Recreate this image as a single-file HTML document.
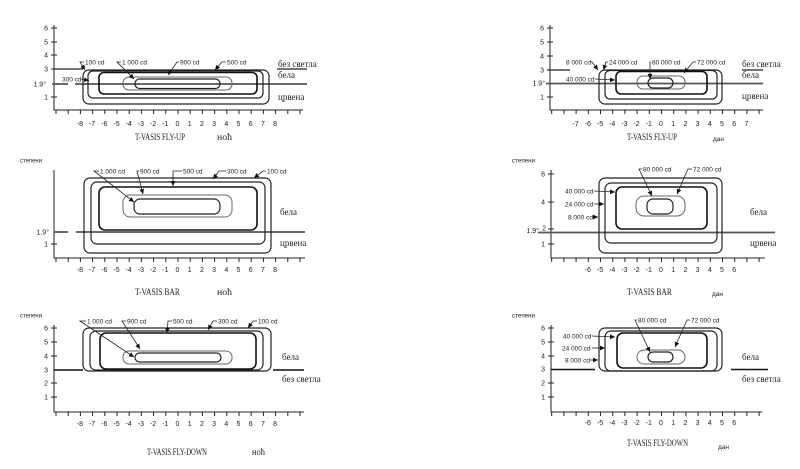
<!DOCTYPE html>
<html><head><meta charset="utf-8"><style>
html,body{margin:0;padding:0;background:#fff;}
svg{display:block;}
.s{font-family:"Liberation Sans",sans-serif;font-size:6.5px;fill:#222;}
.t{font-family:"Liberation Sans",sans-serif;font-size:7px;fill:#222;text-anchor:middle;}
.y{font-family:"Liberation Sans",sans-serif;font-size:7px;fill:#222;text-anchor:end;}
.r{font-family:"Liberation Serif",serif;font-size:9px;fill:#222;}
.h{font-family:"Liberation Serif",serif;font-size:9.5px;fill:#222;}
.ax{stroke:#222;stroke-width:1;fill:none;}
.k{stroke:#222;stroke-width:1.2;fill:none;}
.kk{stroke:#111;stroke-width:1.6;fill:none;}
.g{stroke:#666;stroke-width:1;fill:none;}
.gl{stroke:#555;stroke-width:1.8;fill:none;}
.ar{stroke:#222;stroke-width:0.8;fill:none;marker-end:url(#a);}
</style></head><body>
<svg width="800" height="469" viewBox="0 0 800 469" xmlns="http://www.w3.org/2000/svg">
<defs><marker id="a" markerWidth="6" markerHeight="6" refX="5" refY="3" orient="auto" markerUnits="userSpaceOnUse"><path d="M0 0.6L5 3L0 5.4Z" fill="#111"/></marker></defs>
<rect width="800" height="469" fill="#fff"/>

<!-- ========== TOP LEFT ========== -->
<path class="ax" d="M54 25V110H303"/>
<line x1="55.5" y1="112" x2="301" y2="112" stroke="#222" stroke-width="4" stroke-dasharray="1 11.2"/>
<path class="ax" d="M51 28h6M51 42h6M51 55h6M51 69h6M51 97h6"/>
<text class="y" x="48" y="30.5">6</text><text class="y" x="48" y="44.5">5</text><text class="y" x="48" y="57.5">4</text><text class="y" x="48" y="71.5">3</text><text class="y" x="46" y="86.5">1.9°</text><text class="y" x="48" y="99.5">1</text>
<path class="k" d="M54 69H83M277 69H307"/>
<path class="gl" d="M52 84H68M75 84H307"/>
<g transform="translate(0,126)"><text class="t" x="79.9">-8</text><text class="t" x="92.1">-7</text><text class="t" x="104.3">-6</text><text class="t" x="116.5">-5</text><text class="t" x="128.7">-4</text><text class="t" x="140.9">-3</text><text class="t" x="153.1">-2</text><text class="t" x="165.3">-1</text><text class="t" x="177.5">0</text><text class="t" x="189.7">1</text><text class="t" x="201.9">2</text><text class="t" x="214.1">3</text><text class="t" x="226.3">4</text><text class="t" x="238.5">5</text><text class="t" x="250.7">6</text><text class="t" x="262.9">7</text><text class="t" x="275.1">8</text></g>
<rect class="k" x="83" y="70" width="186" height="34" rx="6"/>
<rect class="k" x="88" y="71" width="175" height="27" rx="5"/>
<rect class="kk" x="99" y="72.5" width="158" height="21.5" rx="5"/>
<rect class="g" x="123" y="77" width="109" height="13" rx="6"/>
<rect class="k" x="135" y="79" width="85" height="9.5" rx="4.5"/>
<text class="s" x="85" y="64.5">100 cd</text><path class="ar" d="M84 62H80L85 70"/>
<text class="s" x="62" y="81.5">300 cd</text><path class="ar" d="M81 79L89 80.5"/>
<text class="s" x="122" y="64.5">1 000 cd</text><path class="ar" d="M121 62H117L134 79"/>
<text class="s" x="180" y="64.5">900 cd</text><path class="ar" d="M179 62H177L168 75"/>
<text class="s" x="227" y="64.5">500 cd</text><path class="ar" d="M226 62H222L215 70"/>
<text class="r" x="278" y="67">без светла</text><text class="r" x="278" y="78">бела</text><text class="r" x="278" y="100">црвена</text>
<text class="h" x="135" y="140" textLength="50" lengthAdjust="spacingAndGlyphs">T-VASIS FLY-UP</text><text class="h" x="217" y="140" textLength="15" lengthAdjust="spacingAndGlyphs">ноћ</text>

<!-- ========== TOP RIGHT ========== -->
<path class="ax" d="M550 25V110H763"/>
<line x1="551.2" y1="112" x2="761" y2="112" stroke="#222" stroke-width="4" stroke-dasharray="1 11.2"/>
<path class="ax" d="M547 28h6M547 42h6M547 56h6M547 70h6M547 97h6"/>
<text class="y" x="544" y="30.5">6</text><text class="y" x="544" y="44.5">5</text><text class="y" x="544" y="58.5">4</text><text class="y" x="544" y="72.5">3</text><text class="y" x="545" y="85.5">1.9°</text><text class="y" x="544" y="99.5">1</text>
<path class="k" d="M547 70H570M742 70H763"/>
<path class="gl" d="M546 83.5H763"/>
<g transform="translate(0,126)"><text class="t" x="575.6">-7</text><text class="t" x="587.8">-6</text><text class="t" x="600">-5</text><text class="t" x="612.2">-4</text><text class="t" x="624.4">-3</text><text class="t" x="636.6">-2</text><text class="t" x="648.8">-1</text><text class="t" x="661">0</text><text class="t" x="673.2">1</text><text class="t" x="685.4">2</text><text class="t" x="697.6">3</text><text class="t" x="709.8">4</text><text class="t" x="722">5</text><text class="t" x="734.2">6</text><text class="t" x="746.4">7</text></g>
<rect class="k" x="599" y="70" width="123" height="34" rx="6"/>
<rect class="k" x="605" y="70.5" width="112" height="28.5" rx="5"/>
<rect class="kk" x="616" y="71.5" width="91" height="22.5" rx="5"/>
<rect class="g" x="637" y="76" width="48" height="13" rx="6"/>
<rect class="k" x="648" y="78" width="25" height="10" rx="5"/>
<text class="s" x="566" y="64.5">8 000 cd</text><path class="ar" d="M590 62H592L598 70"/>
<text class="s" x="609" y="64.5">24 000 cd</text><path class="ar" d="M608 62H606L603.5 70"/>
<text class="s" x="566" y="81.5">40 000 cd</text><path class="ar" d="M595 79L615 80"/>
<text class="s" x="652" y="64.5">80 000 cd</text><path class="ar" d="M651 62H650L650 79"/>
<text class="s" x="697" y="64.5">72 000 cd</text><path class="ar" d="M696 62H693L684 73"/>
<text class="r" x="742" y="67">без светла</text><text class="r" x="742" y="78">бела</text><text class="r" x="742" y="99">црвена</text>
<text class="h" x="627" y="140" textLength="50" lengthAdjust="spacingAndGlyphs">T-VASIS FLY-UP</text><text class="s" x="713" y="141">дан</text>

<!-- ========== MIDDLE LEFT ========== -->
<text class="s" x="20" y="162.5" textLength="22" lengthAdjust="spacingAndGlyphs">степени</text>
<path class="ax" d="M54 170V258H305"/>
<line x1="55.5" y1="260" x2="301" y2="260" stroke="#222" stroke-width="4" stroke-dasharray="1 11.2"/>
<path class="ax" d="M51 244h6"/>
<text class="y" x="49" y="234.5">1.9°</text><text class="y" x="48" y="246.5">1</text>
<path class="gl" d="M54 232H68M76 232H305"/>
<g transform="translate(0,272)"><text class="t" x="79.9">-8</text><text class="t" x="92.1">-7</text><text class="t" x="104.3">-6</text><text class="t" x="116.5">-5</text><text class="t" x="128.7">-4</text><text class="t" x="140.9">-3</text><text class="t" x="153.1">-2</text><text class="t" x="165.3">-1</text><text class="t" x="177.5">0</text><text class="t" x="189.7">1</text><text class="t" x="201.9">2</text><text class="t" x="214.1">3</text><text class="t" x="226.3">4</text><text class="t" x="238.5">5</text><text class="t" x="250.7">6</text><text class="t" x="262.9">7</text><text class="t" x="275.1">8</text></g>
<rect class="k" x="84" y="178" width="187" height="75" rx="6"/>
<rect class="k" x="91" y="182" width="174" height="62" rx="6"/>
<rect class="kk" x="99" y="187" width="158" height="43" rx="6"/>
<rect class="g" x="123" y="195" width="109" height="22" rx="7"/>
<rect class="k" x="134" y="199" width="86" height="15" rx="6"/>
<text class="s" x="100" y="173.5">1 000 cd</text><path class="ar" d="M99 171H94L134 202"/>
<text class="s" x="140" y="173.5">900 cd</text><path class="ar" d="M139 171H137L143 194"/>
<text class="s" x="183" y="173.5">500 cd</text><path class="ar" d="M182 171H173V186"/>
<text class="s" x="227" y="173.5">300 cd</text><path class="ar" d="M226 171H219L213 179"/>
<text class="s" x="267" y="173.5">100 cd</text><path class="ar" d="M266 171H263L254 178"/>
<text class="r" x="280" y="215">бела</text><text class="r" x="280" y="246">црвена</text>
<text class="h" x="135" y="295" textLength="45" lengthAdjust="spacingAndGlyphs">T-VASIS BAR</text><text class="h" x="217" y="295" textLength="15" lengthAdjust="spacingAndGlyphs">ноћ</text>

<!-- ========== MIDDLE RIGHT ========== -->
<text class="s" x="512" y="162.5" textLength="23" lengthAdjust="spacingAndGlyphs">степени</text>
<path class="ax" d="M551 170V258H765"/>
<line x1="551.2" y1="260" x2="761" y2="260" stroke="#222" stroke-width="4" stroke-dasharray="1 11.2"/>
<path class="ax" d="M548 174h6M548 202h6M548 229h6M548 244h6"/>
<text class="y" x="545" y="176.5">6</text><text class="y" x="545" y="204.5">4</text><text class="y" x="546" y="230.5">2</text><text class="y" x="545" y="246.5">1</text><text class="y" x="539" y="233">1.9°</text>
<path class="gl" d="M538 232.5H775"/>
<g transform="translate(0,272)"><text class="t" x="587.8">-6</text><text class="t" x="600">-5</text><text class="t" x="612.2">-4</text><text class="t" x="624.4">-3</text><text class="t" x="636.6">-2</text><text class="t" x="648.8">-1</text><text class="t" x="661">0</text><text class="t" x="673.2">1</text><text class="t" x="685.4">2</text><text class="t" x="697.6">3</text><text class="t" x="709.8">4</text><text class="t" x="722">5</text><text class="t" x="734.2">6</text></g>
<rect class="k" x="599" y="178" width="123" height="75" rx="6"/>
<rect class="k" x="605" y="183" width="112" height="60" rx="6"/>
<rect class="kk" x="616" y="187" width="91" height="42" rx="6"/>
<rect class="g" x="636" y="196" width="49" height="20" rx="8"/>
<rect class="k" x="647" y="199" width="26" height="15" rx="6"/>
<text class="s" x="643" y="171.5">80 000 cd</text><path class="ar" d="M642 169H639L652 196"/>
<text class="s" x="693" y="171.5">72 000 cd</text><path class="ar" d="M692 169H688L677 194"/>
<text class="s" x="565" y="193.5">40 000 cd</text><path class="ar" d="M594 191L615 192"/>
<text class="s" x="565" y="206.5">24 000 cd</text><path class="ar" d="M594 204L604 204"/>
<text class="s" x="568" y="219.5">8 000 cd</text><path class="ar" d="M592 217L598 217"/>
<text class="r" x="750" y="215">бела</text><text class="r" x="750" y="246">црвена</text>
<text class="h" x="627" y="295" textLength="45" lengthAdjust="spacingAndGlyphs">T-VASIS BAR</text><text class="s" x="712" y="296">дан</text>

<!-- ========== BOTTOM LEFT ========== -->
<text class="s" x="20" y="317.5" textLength="22" lengthAdjust="spacingAndGlyphs">степени</text>
<path class="ax" d="M54 325V412H304"/>
<line x1="55.5" y1="414" x2="301" y2="414" stroke="#222" stroke-width="4" stroke-dasharray="1 11.2"/>
<path class="ax" d="M51 328h6M51 342h6M51 356h6M51 383h6M51 397h6"/>
<text class="y" x="48" y="330.5">6</text><text class="y" x="48" y="344.5">5</text><text class="y" x="48" y="358.5">4</text><text class="y" x="48" y="372.5">3</text><text class="y" x="48" y="385.5">2</text><text class="y" x="48" y="399.5">1</text>
<path class="kk" d="M54 370H83M273 370H304"/>
<g transform="translate(0,426)"><text class="t" x="79.9">-8</text><text class="t" x="92.1">-7</text><text class="t" x="104.3">-6</text><text class="t" x="116.5">-5</text><text class="t" x="128.7">-4</text><text class="t" x="140.9">-3</text><text class="t" x="153.1">-2</text><text class="t" x="165.3">-1</text><text class="t" x="177.5">0</text><text class="t" x="189.7">1</text><text class="t" x="201.9">2</text><text class="t" x="214.1">3</text><text class="t" x="226.3">4</text><text class="t" x="238.5">5</text><text class="t" x="250.7">6</text><text class="t" x="262.9">7</text><text class="t" x="275.1">8</text></g>
<rect class="k" x="83" y="328" width="188" height="43" rx="6"/>
<rect class="k" x="90" y="331" width="173" height="39" rx="6"/>
<rect class="kk" x="100" y="333" width="156" height="36" rx="6"/>
<rect class="g" x="123" y="351" width="109" height="13" rx="6"/>
<rect class="k" x="135" y="353" width="86" height="9" rx="4.5"/>
<text class="s" x="87" y="323.5">1 000 cd</text><path class="ar" d="M86 321H80L134 357"/>
<text class="s" x="127" y="323.5">900 cd</text><path class="ar" d="M126 321H122L140 349"/>
<text class="s" x="173" y="323.5">500 cd</text><path class="ar" d="M172 321H168L167 333"/>
<text class="s" x="218" y="323.5">300 cd</text><path class="ar" d="M217 321H213L208 330"/>
<text class="s" x="258" y="323.5">100 cd</text><path class="ar" d="M257 321H253L248 328"/>
<text class="r" x="282" y="360">бела</text><text class="r" x="282" y="382">без светла</text>
<text class="h" x="147" y="455" textLength="60" lengthAdjust="spacingAndGlyphs">T-VASIS FLY-DOWN</text><text class="h" x="252" y="455" textLength="13" lengthAdjust="spacingAndGlyphs">ноћ</text>

<!-- ========== BOTTOM RIGHT ========== -->
<text class="s" x="512" y="317.5" textLength="23" lengthAdjust="spacingAndGlyphs">степени</text>
<path class="ax" d="M551 325V412H762"/>
<line x1="551.2" y1="414" x2="761" y2="414" stroke="#222" stroke-width="4" stroke-dasharray="1 11.2"/>
<path class="ax" d="M548 328h6M548 342h6M548 356h6M548 383h6M548 397h6"/>
<text class="y" x="545" y="330.5">6</text><text class="y" x="545" y="344.5">5</text><text class="y" x="545" y="358.5">4</text><text class="y" x="545" y="371.5">3</text><text class="y" x="545" y="385.5">2</text><text class="y" x="545" y="399.5">1</text>
<path class="kk" d="M551 369.5H595M731 369.5H768"/>
<g transform="translate(0,425)"><text class="t" x="587.8">-6</text><text class="t" x="600">-5</text><text class="t" x="612.2">-4</text><text class="t" x="624.4">-3</text><text class="t" x="636.6">-2</text><text class="t" x="648.8">-1</text><text class="t" x="661">0</text><text class="t" x="673.2">1</text><text class="t" x="685.4">2</text><text class="t" x="697.6">3</text><text class="t" x="709.8">4</text><text class="t" x="722">5</text><text class="t" x="734.2">6</text></g>
<rect class="k" x="599" y="328" width="123" height="43" rx="6"/>
<rect class="k" x="605" y="331" width="112" height="40" rx="6"/>
<rect class="kk" x="617" y="333" width="90" height="35" rx="6"/>
<rect class="g" x="637" y="350" width="48" height="14" rx="7"/>
<rect class="k" x="648" y="352" width="25" height="10" rx="5"/>
<text class="s" x="638" y="322.5">80 000 cd</text><path class="ar" d="M637 320H635L650 352"/>
<text class="s" x="691" y="322.5">72 000 cd</text><path class="ar" d="M690 320H687L675 347"/>
<text class="s" x="563" y="338.5">40 000 cd</text><path class="ar" d="M592 336L615 337"/>
<text class="s" x="562" y="350.5">24 000 cd</text><path class="ar" d="M592 348L605 348"/>
<text class="s" x="565" y="362.5">8 000 cd</text><path class="ar" d="M590 360L598 360"/>
<text class="r" x="742" y="360">бела</text><text class="r" x="742" y="382">без светла</text>
<text class="h" x="627" y="446" textLength="61" lengthAdjust="spacingAndGlyphs">T-VASIS FLY-DOWN</text><text class="s" x="718" y="449">дан</text>
</svg>
</body></html>
